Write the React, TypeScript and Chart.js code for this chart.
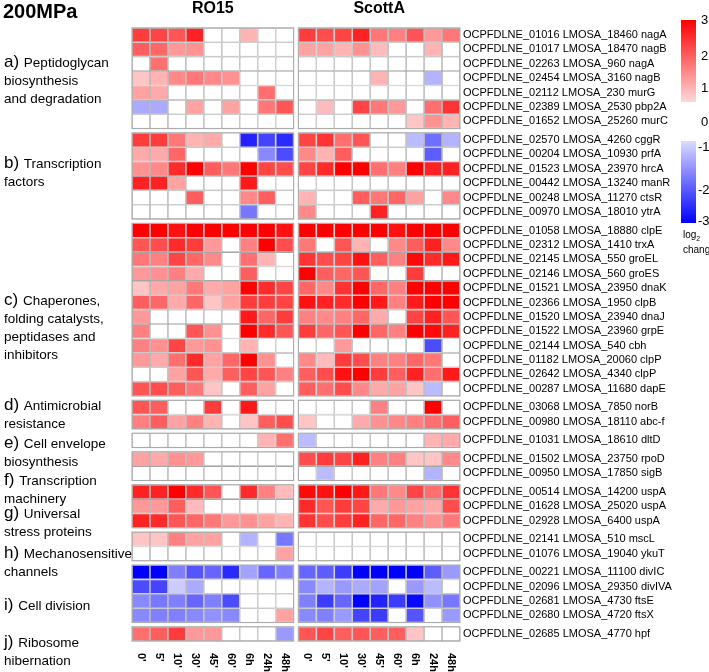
import React, { useEffect, useRef } from "react";
import { Chart, registerables } from "chart.js";

Chart.register(...registerables);

const FONT = "'Liberation Sans', Arial, Helvetica, sans-serif";

// ---------- DATA ----------
const timeLabels = ["0'", "5'", "10'", "30'", "45'", "60'", "6h", "24h", "48h"];
const panelNames = ["RO15", "ScottA"];
const groupSizes = [7, 6, 12, 2, 1, 2, 3, 2, 4, 1];
const groupLetters = ["a)", "b)", "c)", "d)", "e)", "f)", "g)", "h)", "i)", "j)"];
const groupTitleLines = [
  ["Peptidoglycan", "biosynthesis", "and degradation"],
  ["Transcription", "factors"],
  ["Chaperones,", "folding catalysts,", "peptidases and", "inhibitors"],
  ["Antimicrobial", "resistance"],
  ["Cell envelope", "biosynthesis"],
  ["Transcription", "machinery"],
  ["Universal", "stress proteins"],
  ["Mechanosensitive", "channels"],
  ["Cell division"],
  ["Ribosome", "hibernation"],
];
const geneLabels = [
  "OCPFDLNE_01016 LMOSA_18460 nagA",
  "OCPFDLNE_01017 LMOSA_18470 nagB",
  "OCPFDLNE_02263 LMOSA_960 nagA",
  "OCPFDLNE_02454 LMOSA_3160 nagB",
  "OCPFDLNE_02112 LMOSA_230 murG",
  "OCPFDLNE_02389 LMOSA_2530 pbp2A",
  "OCPFDLNE_01652 LMOSA_25260 murC",
  "OCPFDLNE_02570 LMOSA_4260 cggR",
  "OCPFDLNE_00204 LMOSA_10930 prfA",
  "OCPFDLNE_01523 LMOSA_23970 hrcA",
  "OCPFDLNE_00442 LMOSA_13240 manR",
  "OCPFDLNE_00248 LMOSA_11270 ctsR",
  "OCPFDLNE_00970 LMOSA_18010 ytrA",
  "OCPFDLNE_01058 LMOSA_18880 clpE",
  "OCPFDLNE_02312 LMOSA_1410 trxA",
  "OCPFDLNE_02145 LMOSA_550 groEL",
  "OCPFDLNE_02146 LMOSA_560 groES",
  "OCPFDLNE_01521 LMOSA_23950 dnaK",
  "OCPFDLNE_02366 LMOSA_1950 clpB",
  "OCPFDLNE_01520 LMOSA_23940 dnaJ",
  "OCPFDLNE_01522 LMOSA_23960 grpE",
  "OCPFDLNE_02144 LMOSA_540 cbh",
  "OCPFDLNE_01182 LMOSA_20060 clpP",
  "OCPFDLNE_02642 LMOSA_4340 clpP",
  "OCPFDLNE_00287 LMOSA_11680 dapE",
  "OCPFDLNE_03068 LMOSA_7850 norB",
  "OCPFDLNE_00980 LMOSA_18110 abc-f",
  "OCPFDLNE_01031 LMOSA_18610 dltD",
  "OCPFDLNE_01502 LMOSA_23750 rpoD",
  "OCPFDLNE_00950 LMOSA_17850 sigB",
  "OCPFDLNE_00514 LMOSA_14200 uspA",
  "OCPFDLNE_01628 LMOSA_25020 uspA",
  "OCPFDLNE_02928 LMOSA_6400 uspA",
  "OCPFDLNE_02141 LMOSA_510 mscL",
  "OCPFDLNE_01076 LMOSA_19040 ykuT",
  "OCPFDLNE_00221 LMOSA_11100 divIC",
  "OCPFDLNE_02096 LMOSA_29350 divIVA",
  "OCPFDLNE_02681 LMOSA_4730 ftsE",
  "OCPFDLNE_02680 LMOSA_4720 ftsX",
  "OCPFDLNE_02685 LMOSA_4770 hpf",
];

// log2 change, RO15 (rows follow geneLabels, columns follow timeLabels)
const ro15Values = [
  [2.3, 2.2, 2.0, 2.6, 0, 0, 0.9, 0, 0],
  [1.9, 1.8, 1.2, 1.3, 0, 0, 0, 0, 0],
  [0, 1.7, 0, 0, 0, 0, 0, 0, 0],
  [0.7, 0.9, 1.4, 1.6, 1.4, 1.3, 0, 0, 0],
  [1.1, 1.0, 0, 0, 0, 0, 0, 1.7, 0],
  [-1.0, -1.0, 0, 1.1, 0, 1.1, 0, 1.6, 2.0],
  [0, 0, 0, 0, 0, 0, 0, 0, 0],
  [2.3, 2.3, 1.6, 0.9, 1.0, 0, -2.6, -2.2, -2.5],
  [1.0, 1.0, 1.8, 0, 0, 0, 0, -1.4, -2.1],
  [1.3, 1.4, 2.5, 3.0, 1.9, 1.6, 3.0, 2.2, 2.1],
  [2.6, 2.6, 1.1, 0, 0, 0, 2.7, 0, 0],
  [0, 0, 0, 1.9, 0, 0, 1.4, 1.9, 0],
  [0, 0, 0, 0, 0, 0, -1.6, 0, 0],
  [3.0, 3.0, 2.8, 3.0, 3.0, 3.0, 3.0, 3.0, 2.8],
  [2.0, 2.1, 2.5, 2.3, 1.2, 0, 1.5, 3.0, 2.1],
  [1.6, 1.5, 2.2, 1.8, 1.4, 0, 1.7, 0.9, 0],
  [1.2, 1.3, 1.5, 1.0, 0, 0, 1.9, 0, 0],
  [0.7, 1.0, 1.1, 1.6, 1.0, 1.1, 3.0, 2.5, 2.2],
  [1.9, 1.8, 1.0, 1.8, 0.7, 1.1, 2.3, 2.3, 2.2],
  [1.2, 0, 0, 0, 0, 0, 2.7, 1.8, 2.3],
  [1.5, 0, 0, 2.0, 1.3, 0, 3.0, 2.5, 2.0],
  [1.5, 1.3, 2.2, 1.2, 1.3, 0, 0.9, 0, 0],
  [1.2, 1.0, 1.7, 2.5, 1.1, 1.8, 3.0, 1.3, 0],
  [0, 0, 1.1, 2.0, 1.0, 1.9, 2.2, 2.0, 1.5],
  [2.0, 2.1, 1.9, 1.6, 0.7, 0, 1.9, 1.1, 0],
  [2.0, 1.9, 0, 0, 2.3, 0, 2.7, 0, 0],
  [1.5, 1.9, 1.1, 1.5, 0.9, 0, 0.7, 1.9, 2.1],
  [0, 0, 0, 0, 0, 0, 0, 0.9, 1.7],
  [1.1, 1.0, 1.3, 1.2, 0, 0, 0, 0, 0],
  [0, 0, 0, 0, 0, 0, 0, 0, 0],
  [2.6, 2.6, 3.0, 2.5, 2.0, 0, 2.5, 1.5, 0.8],
  [1.2, 1.2, 1.9, 0.8, 0, 0, 0, 0, 0],
  [2.6, 2.5, 2.0, 1.8, 1.6, 1.2, 1.3, 1.1, 0.9],
  [0.7, 0.7, 1.5, 1.1, 1.1, 0, -0.9, 0, -1.6],
  [0, 0, 0, 0, 0, 0, 0, 0, 1.1],
  [-3.0, -3.0, -1.5, -2.0, -1.8, -2.5, -1.1, -1.8, -1.5],
  [-2.1, -2.2, -0.6, -1.0, 0, 0, 0, 0, 0],
  [-1.4, -1.6, -1.5, -1.8, -1.5, -2.1, 0, 0, 0],
  [-1.4, -1.5, -1.5, -1.4, -1.3, -1.4, 0, 0, 1.1],
  [1.7, 1.9, 2.3, 1.2, 1.2, 0, 0, 0, -1.2],
];

// log2 change, ScottA
const scottAValues = [
  [2.3, 2.1, 2.2, 2.6, 1.6, 1.5, 2.0, 1.2, 1.6],
  [1.1, 1.1, 0.9, 1.3, 0.8, 0, 0, 0.9, 0],
  [0, 0, 0, 0, 0, 0, 0, 0, 0],
  [0, 0, 0, 0, 0.9, 0, 0, -0.9, 0],
  [0, 0, 0, 0, 0, 0, 0, 0, 0],
  [0, 0.8, 0, 2.2, 1.6, 1.2, 0, 1.7, 2.4],
  [0, 0, 0, 0, 0, 0, 0.7, 1.3, 0.9],
  [2.2, 2.4, 1.7, 2.0, 0, 0, -0.8, -1.7, -0.9],
  [1.4, 0.9, 1.9, 0, 0, 0, 0, -1.9, 0],
  [2.2, 2.5, 3.0, 3.0, 1.7, 1.5, 3.0, 2.6, 2.6],
  [0, 0, 0, 0, 0, 0, 0, 0, 0],
  [0.9, 0, 0, 1.9, 1.6, 1.8, 1.1, 0, 1.4],
  [1.4, 0, 0, 0, 2.6, 0, 0, 0, 0],
  [3.0, 3.0, 3.0, 3.0, 3.0, 2.8, 3.0, 3.0, 3.0],
  [1.6, 0, 2.0, 0.9, 0, 1.4, 1.9, 2.6, 1.4],
  [2.4, 2.1, 2.2, 2.8, 1.9, 1.5, 2.9, 2.5, 2.7],
  [3.0, 1.9, 1.8, 2.0, 0, 0, 2.3, 0, 0],
  [1.8, 1.4, 2.4, 3.0, 1.8, 1.5, 3.0, 3.0, 3.0],
  [2.8, 2.6, 2.5, 3.0, 2.7, 1.5, 2.7, 3.0, 3.0],
  [1.5, 1.4, 1.5, 1.8, 1.0, 0, 2.2, 2.6, 2.0],
  [2.3, 1.8, 2.0, 3.0, 1.8, 1.5, 3.0, 2.9, 2.6],
  [0, 0, 1.2, 0, 0, 0, 0, -2.1, 0],
  [1.4, 0.8, 2.3, 2.1, 1.5, 1.5, 1.8, 1.6, 0],
  [1.9, 2.1, 2.8, 3.0, 2.3, 1.9, 2.6, 1.7, 2.7],
  [1.9, 1.7, 2.1, 1.4, 1.0, 1.1, 0.7, -0.8, 0],
  [0, 0, 0, 0, 1.5, 0, 0, 3.0, 0],
  [0.7, 0, 0, 1.0, 1.3, 1.4, 1.5, 1.7, 1.9],
  [-0.8, 0, 0, 0, 0, 0, 0, 0.9, 1.0],
  [2.1, 2.3, 2.2, 2.6, 1.5, 1.5, 0.7, 0.7, 1.4],
  [0, -0.8, 0, 0, 0, 0, 0, -0.9, 0],
  [2.9, 2.8, 3.0, 2.7, 1.6, 1.4, 2.2, 1.7, 2.4],
  [2.5, 2.0, 2.3, 2.2, 1.0, 1.2, 1.1, 1.0, 2.1],
  [2.4, 2.1, 2.3, 2.6, 1.8, 1.8, 1.5, 1.3, 1.6],
  [0, 0, 0, 0, 0, 0, 0, 0, 0],
  [0, 0, 0, 0, 0, 0, 0, 0, 0],
  [-1.8, -1.9, -2.3, -3.0, -3.0, -3.0, -3.0, -1.9, -1.2],
  [-1.4, -0.9, -1.2, -1.0, -1.1, 0, -1.2, -0.8, 0],
  [-1.5, -2.3, -1.8, -3.0, -2.6, -2.3, -2.9, -1.3, -1.6],
  [-1.4, -1.5, -1.2, -2.2, -2.3, 0, -2.0, 0, -1.2],
  [2.0, 2.2, 1.9, 2.0, 1.9, 1.9, 0.7, 0, 0],
];

const legendPosTicks = ["3", "2", "1", "0"];
const legendNegTicks = ["-1", "-2", "-3"];

// ---------- LAYOUT ----------
const GROUP_GAP = 0.29; // in row units
const PANEL_GAP = 0.26; // in column units
const NCOL = timeLabels.length;
const groupLabelTops = [62, 163, 300, 405, 443, 480, 513, 553, 605, 642];
const legendPosTops = [20, 56, 88, 122];
const legendNegTops = [147, 190, 221];

function colour(v: number): string {
  if (!v) return "#ffffff";
  const t = Math.min(Math.abs(v), 3) / 3;
  const g = Math.round(255 * (1 - t));
  return v > 0 ? `rgb(255,${g},${g})` : `rgb(${g},${g},255)`;
}

function computeLayout() {
  const centers: number[] = [];
  const groupStarts: number[] = [];
  let pos = 0;
  groupSizes.forEach((n, gi) => {
    if (gi > 0) pos += GROUP_GAP;
    groupStarts.push(pos);
    for (let i = 0; i < n; i++) {
      centers.push(pos + 0.5);
      pos += 1;
    }
  });
  return { centers, groupStarts, total: pos };
}

export default function App() {
  const ref = useRef<HTMLCanvasElement>(null);

  useEffect(() => {
    const canvas = ref.current;
    if (!canvas) return;
    const { centers, groupStarts, total } = computeLayout();
    const panels = [ro15Values, scottAValues];
    const offsets = [0, NCOL + PANEL_GAP];

    const datasets = panels.map((vals, p) => {
      const data: { x: number[]; y: number }[] = [];
      const colors: string[] = [];
      vals.forEach((row, r) =>
        row.forEach((v, c) => {
          data.push({ x: [offsets[p] + c, offsets[p] + c + 1], y: centers[r] });
          colors.push(colour(v));
        })
      );
      return {
        label: panelNames[p],
        data,
        backgroundColor: colors,
        borderColor: "#a6a6a6",
        borderWidth: 0.8,
        borderSkipped: false,
        inflateAmount: 0,
        grouped: false,
        categoryPercentage: 1,
        barPercentage: 1,
      };
    });

    const extras = {
      id: "heatExtras",
      afterDatasetsDraw(chart: any) {
        const { ctx, chartArea } = chart;
        const xs = chart.scales.x;
        const ys = chart.scales.y;
        ctx.save();
        // group outlines
        ctx.strokeStyle = "#a6a6a6";
        ctx.lineWidth = 1;
        groupSizes.forEach((n, gi) => {
          const y0 = ys.getPixelForValue(groupStarts[gi]);
          const y1 = ys.getPixelForValue(groupStarts[gi] + n);
          offsets.forEach((o) => {
            const x0 = xs.getPixelForValue(o);
            const x1 = xs.getPixelForValue(o + NCOL);
            ctx.strokeRect(x0, y0, x1 - x0, y1 - y0);
          });
        });
        // panel headers
        ctx.fillStyle = "#000";
        ctx.font = `bold 16px ${FONT}`;
        ctx.textAlign = "center";
        ctx.textBaseline = "middle";
        offsets.forEach((o, p) => {
          ctx.fillText(panelNames[p], xs.getPixelForValue(o + NCOL / 2), 9);
        });
        // column labels (rotated, reading downward)
        ctx.font = `bold 11px ${FONT}`;
        ctx.textAlign = "left";
        offsets.forEach((o) => {
          timeLabels.forEach((lab, c) => {
            const x = xs.getPixelForValue(o + c + 0.5);
            ctx.save();
            ctx.translate(x, chartArea.bottom + 4);
            ctx.rotate(Math.PI / 2);
            ctx.fillText(lab, 0, 0);
            ctx.restore();
          });
        });
        ctx.restore();
      },
    };

    const chart = new Chart(canvas, {
      type: "bar",
      data: { datasets: datasets as any },
      options: {
        indexAxis: "y",
        responsive: false,
        animation: false,
        events: [],
        layout: { padding: { left: 132, top: 20, right: 0, bottom: 23 } },
        plugins: { legend: { display: false }, tooltip: { enabled: false } },
        scales: {
          x: { type: "linear", min: 0, max: 2 * NCOL + PANEL_GAP, display: false },
          y: {
            type: "linear",
            position: "right",
            reverse: true,
            min: 0,
            max: total,
            grid: { display: false, drawTicks: false },
            border: { display: false },
            afterBuildTicks: (s: any) => {
              s.ticks = centers.map((v) => ({ value: v }));
            },
            afterFit: (s: any) => {
              s.width = 249;
            },
            ticks: {
              autoSkip: false,
              padding: 3,
              color: "#000",
              font: { family: FONT, size: 11 },
              callback: (_v: any, i: number) => geneLabels[i],
            },
          },
        },
      } as any,
      plugins: [extras],
    });
    return () => chart.destroy();
  }, []);

  return (
    <div
      style={{
        position: "absolute",
        left: 0,
        top: 0,
        width: 709,
        height: 672,
        background: "#fff",
        fontFamily: FONT,
        color: "#000",
        overflow: "hidden",
      }}
    >
      <canvas
        ref={ref}
        width={709}
        height={672}
        style={{ position: "absolute", left: 0, top: 0, width: 709, height: 672 }}
      />
      <div style={{ position: "absolute", left: 3, top: 0, fontSize: 20, fontWeight: "bold", lineHeight: "22px" }}>
        200MPa
      </div>
      {groupLetters.map((letter, gi) => (
        <div
          key={letter}
          style={{
            position: "absolute",
            left: 4,
            top: groupLabelTops[gi] - 9,
            fontSize: 13.5,
            lineHeight: "18px",
            whiteSpace: "nowrap",
          }}
        >
          {groupTitleLines[gi].map((line, li) => (
            <div key={li}>
              {li === 0 ? <span style={{ fontSize: 17 }}>{letter} </span> : null}
              {line}
            </div>
          ))}
        </div>
      ))}
      {/* colour key */}
      <div
        style={{
          position: "absolute",
          left: 681,
          top: 20,
          width: 15,
          height: 82,
          background: "linear-gradient(to bottom, #ff0000, #ffd8d8)",
        }}
      />
      <div
        style={{
          position: "absolute",
          left: 681,
          top: 141,
          width: 15,
          height: 82,
          background: "linear-gradient(to bottom, #dcdcff, #0000ff)",
        }}
      />
      {legendPosTicks.map((t, i) => (
        <div key={t} style={{ position: "absolute", left: 701, top: legendPosTops[i] - 8, fontSize: 13, lineHeight: "16px" }}>
          {t}
        </div>
      ))}
      {legendNegTicks.map((t, i) => (
        <div key={t} style={{ position: "absolute", left: 698, top: legendNegTops[i] - 8, fontSize: 13, lineHeight: "16px" }}>
          {t}
        </div>
      ))}
      <div style={{ position: "absolute", left: 683, top: 229, fontSize: 10, lineHeight: "11px" }}>
        log<sub style={{ fontSize: 7 }}>2</sub>
        <br />
        change
      </div>
    </div>
  );
}
